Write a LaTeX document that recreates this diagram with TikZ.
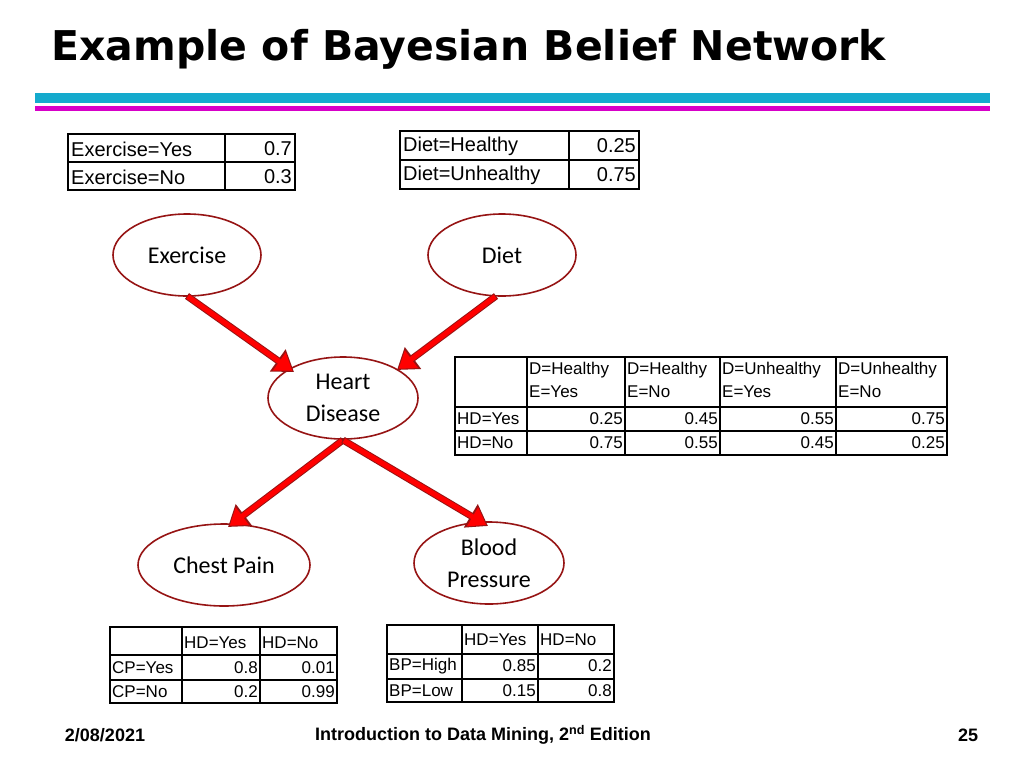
\documentclass[tikz,border=0pt]{standalone}
\usepackage{fontspec}
\setmainfont{Liberation Sans}
\newfontfamily\calfont{Carlito}
\newfontfamily\headfont{DejaVu Sans}
\usetikzlibrary{shapes.geometric,arrows.meta}
\definecolor{bandcyan}{RGB}{20,170,205}
\definecolor{bandmag}{RGB}{215,0,200}
\definecolor{ringred}{RGB}{150,20,20}
\tikzset{
  var/.style={draw=ringred, line width=1.6pt, ellipse, fill=white, align=center,
    minimum width=148, minimum height=82, font=\calfont\fontsize{24}{32}\selectfont},
  link/.style={draw=ringred, line width=7pt, -{Triangle[length=20pt,width=26pt]}},
  linkin/.style={draw=red, line width=5pt, -{Triangle[length=16pt,width=21pt]}, shorten >=2pt, shorten <=1pt},
  cell/.style={font=\fontsize{17}{20}\selectfont, inner sep=2pt},
  bigcell/.style={font=\fontsize{20}{22}\selectfont, inner sep=3pt},
  grid/.style={line width=1.8pt}
}
\begin{document}
\begin{tikzpicture}[x=1pt, y=-1pt]
\useasboundingbox (0,0) rectangle (1024,768);
% title and bands
\node[anchor=west, font=\headfont\bfseries\fontsize{41}{50}\selectfont] (title) at (48,49) {Example of Bayesian Belief Network};
\fill[bandcyan] (35,93) rectangle (990,103);
\fill[bandmag] (35,106) rectangle (990,111);

% prior tables
\draw[grid] (68,134) rectangle (295,190) (225,134) -- (225,190) (68,162) -- (295,162);
\node[bigcell, anchor=west] at (68,149) {Exercise=Yes};
\node[bigcell, anchor=west] at (68,177) {Exercise=No};
\node[bigcell, anchor=east] at (295,149) {0.7};
\node[bigcell, anchor=east] at (295,177) {0.3};
\draw[grid] (400,131) rectangle (639,189) (569,131) -- (569,189) (400,160) -- (639,160);
\node[bigcell, anchor=west] at (400,146) {Diet=Healthy};
\node[bigcell, anchor=west] at (400,175) {Diet=Unhealthy};
\node[bigcell, anchor=east] at (639,146) {0.25};
\node[bigcell, anchor=east] at (639,175) {0.75};

% nodes
\node[var] (ex) at (187,255) {Exercise};
\node[var] (diet) at (502,255) {Diet};
\node[var, minimum width=150] (hd) at (343,398) {Heart\\Disease};
\node[var, minimum width=172] (cp) at (224,565) {Chest Pain};
\node[var, minimum width=150] (bp) at (489,563) {Blood\\Pressure};

% links
\coordinate (exout) at (187,296);
\coordinate (dietout) at (496,296);
\coordinate (hdout) at (343,440);
\coordinate (hdin1) at (294,372);
\coordinate (hdin2) at (397,370);
\coordinate (cpin) at (228,527);
\coordinate (bpin) at (488,526);
\foreach \s/\t in {exout/hdin1, dietout/hdin2, hdout/cpin, hdout/bpin}{
  \draw[link] (\s) -- (\t);
  \draw[linkin] (\s) -- (\t);
}

% heart disease table
\draw[grid] (455,357) rectangle (947,455);
\foreach \c in {527,625,720,836} \draw[grid] (\c,357) -- (\c,455);
\draw[grid] (455,407) -- (947,407) (455,431) -- (947,431);
\foreach \c/\d/\e in {527/Healthy/Yes, 625/Healthy/No, 720/Unhealthy/Yes, 836/Unhealthy/No}{
  \node[cell, anchor=west] at (\c,370) {D=\d};
  \node[cell, anchor=west] at (\c,392) {E=\e};
}
\node[cell, anchor=west] at (455,419) {HD=Yes};
\node[cell, anchor=west] at (455,443) {HD=No};
\foreach \c/\y/\n in {625/0.25/0.75, 720/0.45/0.55, 836/0.55/0.45, 947/0.75/0.25}{
  \node[cell, anchor=east] at (\c,419) {\y};
  \node[cell, anchor=east] at (\c,443) {\n};
}

% chest pain table
\draw[grid] (110,627) rectangle (337,703) (182,627) -- (182,703) (260,627) -- (260,703)
  (110,655) -- (337,655) (110,680) -- (337,680);
\node[cell, anchor=west] at (182,643) {HD=Yes};
\node[cell, anchor=west] at (260,643) {HD=No};
\node[cell, anchor=west] at (110,668) {CP=Yes};
\node[cell, anchor=west] at (110,692) {CP=No};
\node[cell, anchor=east] at (260,668) {0.8};
\node[cell, anchor=east] at (260,692) {0.2};
\node[cell, anchor=east] at (337,668) {0.01};
\node[cell, anchor=east] at (337,692) {0.99};

% blood pressure table
\draw[grid] (387,625) rectangle (614,702) (462,625) -- (462,702) (538,625) -- (538,702)
  (387,654) -- (614,654) (387,679) -- (614,679);
\node[cell, anchor=west] at (462,640) {HD=Yes};
\node[cell, anchor=west] at (538,640) {HD=No};
\node[cell, anchor=west] at (387,666) {BP=High};
\node[cell, anchor=west] at (387,691) {BP=Low};
\node[cell, anchor=east] at (538,666) {0.85};
\node[cell, anchor=east] at (538,691) {0.15};
\node[cell, anchor=east] at (614,666) {0.2};
\node[cell, anchor=east] at (614,691) {0.8};

% footer
\node[font=\bfseries\fontsize{18}{20}\selectfont] (date) at (105,735) {2/08/2021};
\node[font=\bfseries\fontsize{18}{20}\selectfont] (book) at (483,735) {Introduction to Data Mining, 2\textsuperscript{nd} Edition};
\node[font=\bfseries\fontsize{18}{20}\selectfont] (page) at (968,735) {25};
\end{tikzpicture}
\end{document}
